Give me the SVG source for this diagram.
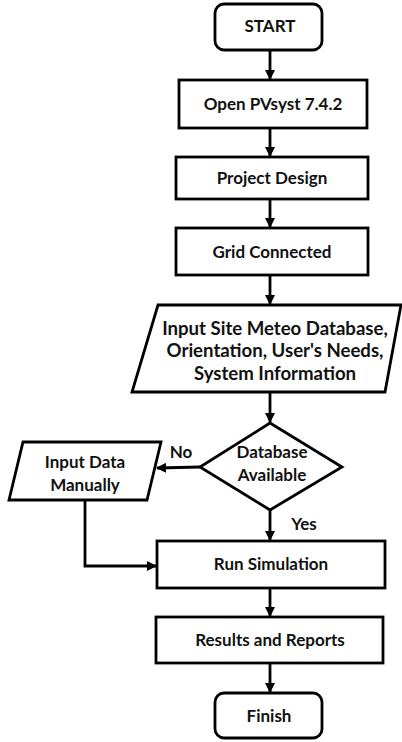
<svg xmlns="http://www.w3.org/2000/svg" width="402" height="742" viewBox="0 0 402 742">
<style>
.n{fill:#fff;stroke:#000;stroke-width:2.8}
.t{font-family:Lato,"Liberation Sans",sans-serif;font-weight:bold;font-size:17px;fill:#111;text-anchor:middle}
.b{font-size:18.6px}
.c{fill:none;stroke:#000;stroke-width:2.8}
</style>
<defs>
<marker id="ah" markerWidth="10" markerHeight="10" refX="9" refY="5" orient="auto" markerUnits="userSpaceOnUse">
<path d="M0,0 L10,5 L0,10 Z" fill="#000"/>
</marker>
</defs>
<rect width="402" height="742" fill="#fff"/>
<g id="connectors">
<line class="c" x1="270" y1="50" x2="270" y2="79" marker-end="url(#ah)"/>
<line class="c" x1="270" y1="128" x2="270" y2="156" marker-end="url(#ah)"/>
<line class="c" x1="270" y1="199" x2="270" y2="227" marker-end="url(#ah)"/>
<line class="c" x1="270" y1="275" x2="270" y2="304" marker-end="url(#ah)"/>
<line class="c" x1="270" y1="392" x2="270" y2="422" marker-end="url(#ah)"/>
<line class="c" x1="200" y1="467" x2="157" y2="468" marker-end="url(#ah)"/>
<line class="c" x1="270" y1="510" x2="270" y2="540" marker-end="url(#ah)"/>
<polyline class="c" points="85,500 85,566 156,566" marker-end="url(#ah)"/>
<line class="c" x1="270" y1="588" x2="270" y2="616" marker-end="url(#ah)"/>
<line class="c" x1="270" y1="663" x2="270" y2="692" marker-end="url(#ah)"/>
<text class="t" x="181" y="458">No</text>
<text class="t" x="304" y="530">Yes</text>
</g>
<g id="start">
<rect class="n" x="215" y="4" width="107" height="46" rx="9"/>
<text class="t" x="270" y="32">START</text>
</g>
<g id="open">
<rect class="n" x="179" y="80" width="188" height="48"/>
<text class="t" x="273" y="110">Open PVsyst 7.4.2</text>
</g>
<g id="design">
<rect class="n" x="176" y="157" width="192" height="42"/>
<text class="t" x="272" y="184">Project Design</text>
</g>
<g id="grid">
<rect class="n" x="176" y="228" width="192" height="47"/>
<text class="t" x="272" y="258">Grid Connected</text>
</g>
<g id="input">
<polygon class="n" points="158,305 401,305 385,392 132,392"/>
<text class="t b" x="275" y="335">Input Site Meteo Database,</text>
<text class="t b" x="275" y="357">Orientation, User's Needs,</text>
<text class="t b" x="275" y="380">System Information</text>
</g>
<g id="decision">
<polygon class="n" points="270,423 342,467 270,510 200,467"/>
<text class="t" x="272" y="458">Database</text>
<text class="t" x="272" y="481">Available</text>
</g>
<g id="manual">
<polygon class="n" points="23,442 161,442 147,500 9,500"/>
<text class="t" x="85" y="468">Input Data</text>
<text class="t" x="85" y="491">Manually</text>
</g>
<g id="run">
<rect class="n" x="157" y="541" width="228" height="47"/>
<text class="t" x="271" y="570">Run Simulation</text>
</g>
<g id="results">
<rect class="n" x="156" y="617" width="227" height="46"/>
<text class="t" x="270" y="646">Results and Reports</text>
</g>
<g id="finish">
<rect class="n" x="215" y="693" width="107" height="45" rx="9"/>
<text class="t" x="269" y="722">Finish</text>
</g>
</svg>
